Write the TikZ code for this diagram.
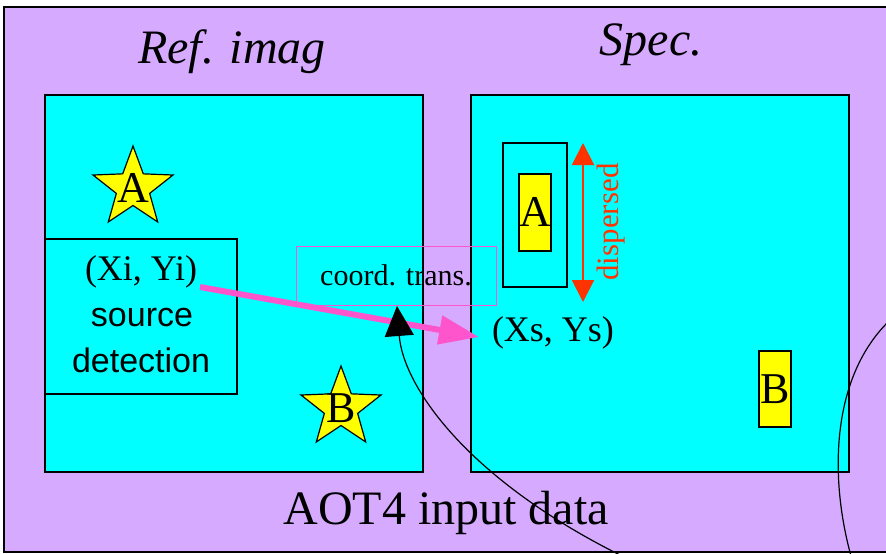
\documentclass[tikz,border=0pt]{standalone}
\usepackage{fontspec}
\setmainfont{Liberation Serif}
\newfontfamily\arialf{Liberation Sans}
\usetikzlibrary{shapes.geometric,arrows.meta}
\definecolor{bgpurple}{RGB}{214,170,255}
\definecolor{cyanbox}{RGB}{0,255,255}
\definecolor{ylw}{RGB}{255,255,0}
\definecolor{pinkc}{RGB}{255,85,204}
\definecolor{redc}{RGB}{255,51,0}
\tikzset{
  panel/.style={draw=black, line width=1.5pt, fill=cyanbox},
  starnode/.style={star, star points=5, star point ratio=2.4, draw=black, line width=1.2pt, fill=ylw, minimum size=84pt, inner sep=0pt},
  ybox/.style={draw=black, line width=1.2pt, fill=ylw},
  title/.style={font=\fontsize{48}{50}\selectfont\itshape},
}
\begin{document}
\begin{tikzpicture}[x=1pt,y=-1pt]
\useasboundingbox (0,0) rectangle (886,554);
\clip (0,0) rectangle (886,554);
\fill[white] (0,0) rectangle (886,554);
\draw[fill=bgpurple, line width=1.5pt] (4,7) rectangle (900,552);
% panels
\draw[panel] (45,95) rectangle (423,472);
\draw[panel] (471,95) rectangle (849,472);
\node[title] (t1) at (232,52) {Ref. imag};
\node[title] (t2) at (651,45) {Spec.};
% stars
\node[starnode] (sa) at (133,188) {};
\node[font=\fontsize{44}{44}\selectfont] at (133,188) {A};
\node[starnode] (sb) at (341,408) {};
\node[font=\fontsize{44}{44}\selectfont] at (341,408) {B};
% source detection
\draw[line width=1.2pt] (45,239) rectangle (237,394);
\node[font=\fontsize{36}{36}\selectfont] (xi) at (141,272) {(Xi, Yi)};
\node[font=\arialf\fontsize{34}{34}\selectfont] (src) at (142,318) {source};
\node[font=\arialf\fontsize{34}{34}\selectfont] (det) at (141,360) {detection};
% coord trans
\node[draw=pinkc, line width=1pt, minimum width=200pt, minimum height=59pt, inner sep=0pt, font=\fontsize{30}{30}\selectfont] (ct) at (396,275.5) {coord. trans.};
% spec A
\draw[line width=1.2pt] (503,143) rectangle (567,287);
\node[ybox, minimum width=32pt, minimum height=77pt, inner sep=0pt] (ya) at (535,212.5) {};
\node[font=\fontsize{44}{44}\selectfont] at (535,212) {A};
\node[ybox, minimum width=32pt, minimum height=76pt, inner sep=0pt] (yb) at (775,389) {};
\node[font=\fontsize{44}{44}\selectfont] at (775,389) {B};
% dispersed
\coordinate (d1) at (583,143);
\coordinate (d2) at (583,302);
\draw[redc, line width=2pt, {Triangle[length=22pt,width=22pt]}-{Triangle[length=22pt,width=22pt]}] (d1) -- (d2);
\node[redc, rotate=90, font=\fontsize{31}{31}\selectfont] (disp) at (611,222) {dispersed};
% Xs Ys
\node[font=\fontsize{36}{36}\selectfont] (xs) at (553,333) {(Xs, Ys)};
\node[font=\fontsize{48}{48}\selectfont] (aot) at (446,513) {AOT4 input data};
% pink arrow
\coordinate (p1) at (200,287);
\coordinate (p2) at (479,337);
\draw[pinkc, line width=6pt, -{Triangle[length=40pt,width=28pt]}] (p1) -- (p2);
% black curve arrow
\coordinate (c0) at (622,556);
\coordinate (c1) at (397,306);
\draw[line width=1.2pt, -{Triangle[length=30pt,width=29pt]}] (c0) .. controls (465,478) and (403,385) .. (c1);
% right curve
\coordinate (r0) at (888,322);
\coordinate (r1) at (851,556);
\draw[line width=1.2pt] (r0) .. controls (830,380) and (830,480) .. (r1);
\end{tikzpicture}
\end{document}
